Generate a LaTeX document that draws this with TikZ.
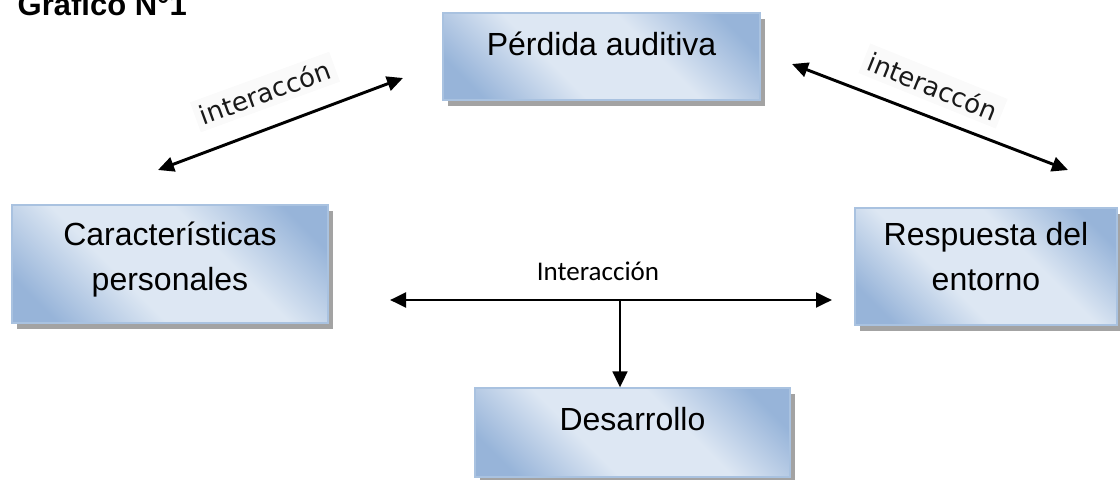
\documentclass[tikz,border=0pt]{standalone}
\usepackage{fontspec}
\setmainfont{Liberation Sans}
\newfontfamily\lblfont{DejaVu Sans}
\newfontfamily\midfont{Carlito}
\usetikzlibrary{arrows.meta,calc,shadows}
\definecolor{boxdark}{HTML}{97B4D9}
\definecolor{boxlight}{HTML}{DDE7F3}
\definecolor{boxline}{HTML}{A9C2E0}
\pgfdeclareverticalshading{boxshade}{100bp}{color(0bp)=(boxdark); color(22bp)=(boxdark); color(40bp)=(boxlight); color(60bp)=(boxlight); color(78bp)=(boxdark); color(100bp)=(boxdark)}

\begin{document}
\begin{tikzpicture}[x=0.75pt,y=-0.75pt,
    boxn/.style={draw=boxline,line width=0.9pt,shading=boxshade,shading angle=-45,
      drop shadow={shadow xshift=3.75pt,shadow yshift=-4.5pt,fill=black!60,opacity=0.6},
      inner sep=0pt,align=center,font=\fontsize{24}{33.75}\selectfont},
    twoway/.style={line width=2.2pt,{Triangle[length=12pt,width=11pt]}-{Triangle[length=12pt,width=11pt]}},
    oneway/.style={line width=2.2pt,-{Triangle[length=12pt,width=11pt]}},
    lbl/.style={font=\lblfont\fontsize{19.5}{22}\selectfont,text=black!90,fill=black!2,inner sep=4pt}]
  \useasboundingbox (0,0) rectangle (1120,479);
  \node[anchor=base west,font=\bfseries\fontsize{23.25}{27}\selectfont] (title) at (13,15) {Gráfico N°1};
  \node[boxn,minimum width=237.75pt,minimum height=65.25pt,text height=18pt,text depth=20.25pt] (perd) at (601.5,56.5) {Pérdida auditiva};
  \node[boxn,minimum width=237pt,minimum height=88.5pt,text height=43.5pt,text depth=4.5pt] (carac) at (170,264) {Características\\personales};
  \node[boxn,minimum width=196.5pt,minimum height=87.75pt,text height=39.75pt,text depth=4.5pt] (resp) at (986,266.5) {Respuesta del\\entorno};
  \node[boxn,minimum width=236.25pt,minimum height=66.75pt,text height=18pt,text depth=21.75pt] (des) at (632.5,432.5) {Desarrollo};
  \coordinate (dl1) at (158,170);
  \coordinate (dl2) at (403,78);
  \coordinate (dr1) at (792,64);
  \coordinate (dr2) at (1068,170);
  \coordinate (hl) at (390,300);
  \coordinate (hr) at (832,300);
  \coordinate (ml) at (508,300);
  \coordinate (mr) at (712,300);
  \coordinate (junc) at (620,300);
  \draw[twoway] (dl1) -- (dl2);
  \draw[twoway] (dr1) -- (dr2);
  \node[lbl,rotate=20] (intl) at (265,92) {interaccón};
  \node[lbl,rotate=-22] (intr) at (933,86) {interaccón};
  \draw[line width=1.5pt] (ml) -- (mr);
  \draw[oneway] (ml) -- (hl);
  \draw[oneway] (mr) -- (hr);
  \draw[oneway,line width=2pt] (junc) -- (junc |- des.north);
  \node[anchor=base,font=\midfont\fontsize{20.25}{24}\selectfont] (inter) at (598,280) {Interacción};
\end{tikzpicture}
\end{document}
